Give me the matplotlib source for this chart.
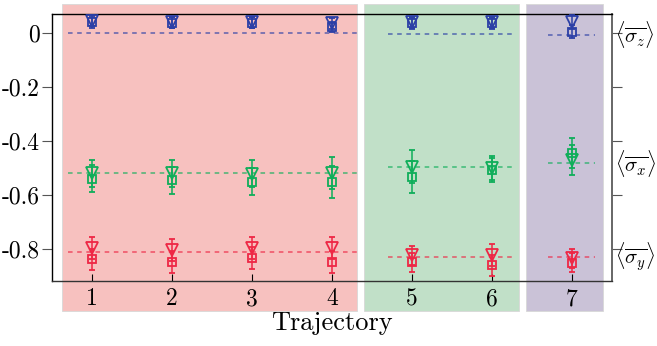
import numpy as np
import matplotlib.pyplot as plt
import matplotlib.transforms as mtransforms

plt.rcParams['font.family'] = 'cmr10'
plt.rcParams['mathtext.fontset'] = 'cm'
plt.rcParams['axes.unicode_minus'] = False

traj = np.array([1, 2, 3, 4, 5, 6, 7])

# <sigma_z>
sz_tri = [0.045, 0.040, 0.040, 0.035, 0.040, 0.040, 0.040]
sz_sq = [0.040, 0.038, 0.038, 0.022, 0.035, 0.035, 0.005]
sz_err = [0.02, 0.02, 0.02, 0.02, 0.02, 0.02, 0.025]
sz_mean = [-0.001, -0.005, -0.007]

# <sigma_x>
sx_tri = [-0.519, -0.520, -0.522, -0.518, -0.495, -0.500, -0.470]
sx_sq = [-0.540, -0.545, -0.550, -0.552, -0.533, -0.507, -0.445]
sx_err = [0.05, 0.05, 0.05, 0.06, 0.06, 0.045, 0.055]
sx_mean = [-0.520, -0.495, -0.483]

# <sigma_y>
sy_tri = [-0.797, -0.804, -0.797, -0.797, -0.822, -0.822, -0.834]
sy_sq = [-0.838, -0.848, -0.834, -0.848, -0.848, -0.860, -0.850]
sy_err = [0.04, 0.04, 0.04, 0.04, 0.035, 0.04, 0.035]
sy_mean = [-0.810, -0.828, -0.828]

# trajectory groups: (x from, x to) for shading and for the mean lines
group_span = [(0.625, 4.31), (4.40, 6.34), (6.425, 7.39)]
mean_span = [(0.7, 4.31), (4.7, 6.26), (6.7, 7.29)]
group_colors = ['#f7c1bf', '#c1e0c8', '#cac2d7']

blue = '#2b3fa6'
green = '#0fae5a'
red = '#ee2745'

fig = plt.figure(figsize=(6.57, 3.46), dpi=100)
ax = fig.add_axes([0.0791, 0.1879, 0.8524, 0.7716])
ax.set_facecolor('none')

for (x0, x1), c in zip(group_span, group_colors):
    rect = plt.Rectangle((x0, -1.03), x1 - x0, 1.137, facecolor=c,
                         edgecolor='#d8d8d8', lw=0.6, zorder=0, clip_on=False)
    ax.add_patch(rect)

series = [(sz_tri, sz_sq, sz_err, sz_mean, blue),
          (sx_tri, sx_sq, sx_err, sx_mean, green),
          (sy_tri, sy_sq, sy_err, sy_mean, red)]

for tri, sq, err, mean, col in series:
    for (x0, x1), m in zip(mean_span, mean):
        ax.plot([x0, x1], [m, m], ls='--', color=col, alpha=0.75, lw=1.1,
                dashes=(3, 3), zorder=2)
    ax.errorbar(traj, sq, yerr=err, fmt='s', ms=5.5, mfc='none', mec=col,
                mew=1.3, ecolor=col, elinewidth=1.1, capsize=2, zorder=3)
    ax.errorbar(traj, tri, yerr=err, fmt='v', ms=8, mfc='none', mec=col,
                mew=1.3, ecolor=col, elinewidth=1.1, capsize=2, zorder=3)

ax.set_xlim(0.5, 7.5)
ax.set_ylim(-0.918, 0.07)

ax.set_xticks(traj)
ax.set_xticklabels([str(t) for t in traj])
yt = [-0.8, -0.6, -0.4, -0.2, 0]
ax.set_yticks(yt)
ax.set_yticklabels(['-0.8', '-0.6', '-0.4', '-0.2', '0'])
ax.tick_params(axis='x', direction='in', length=5, labelsize=17, pad=5)
ax.tick_params(axis='y', direction='out', length=7, labelsize=17, pad=2,
               color='#555555', right=True)
ax.set_xlabel('Trajectory', fontsize=19, labelpad=1)

ax.spines['right'].set_color('#666666')
ax.spines['right'].set_linewidth(1.4)
for s in ['left', 'top', 'bottom']:
    ax.spines[s].set_linewidth(1.0)
ax.spines['bottom'].set_color('#333333')

trans = mtransforms.blended_transform_factory(ax.transAxes, ax.transData)
labels = [r'$\langle\overline{\sigma_z}\rangle$',
          r'$\langle\overline{\sigma_x}\rangle$',
          r'$\langle\overline{\sigma_y}\rangle$']
for lab, m in zip(labels, [sz_mean[2], sx_mean[2], sy_mean[2]]):
    ax.text(1.005, m, lab, transform=trans, fontsize=15, va='center', ha='left')

fig.savefig('out.png', dpi=100)
